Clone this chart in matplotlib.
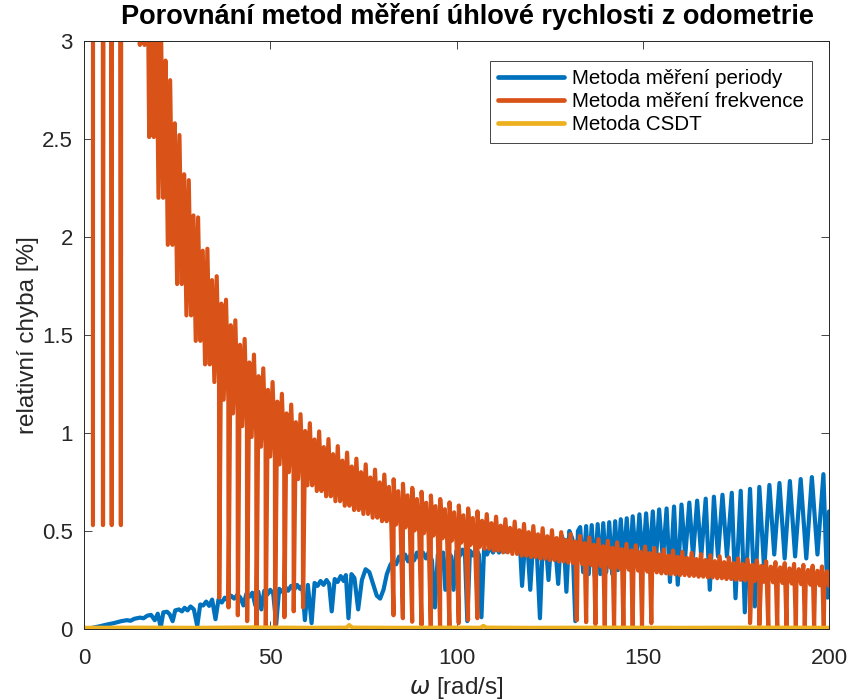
import numpy as np
import matplotlib
matplotlib.use('Agg')
import matplotlib.pyplot as plt

plt.rcParams['font.family'] = ['Liberation Sans', 'DejaVu Sans']

# --- metoda mereni frekvence: obalky pasma v krocich 2.5 rad/s ---
orange_omega = np.arange(2.5, 200.01, 2.5)
orange_peak = [25.2, 12.6, 8.4, 6.3, 5.04, 4.2, 3.6, 3.15, 2.8, 2.52,
               2.29, 2.1, 1.94, 1.8, 1.68, 1.575, 1.48, 1.4, 1.33, 1.26,
               1.2, 1.145, 1.096, 1.05, 1.008, 0.969, 0.933, 0.9, 0.869, 0.84,
               0.813, 0.788, 0.764, 0.741, 0.72, 0.7, 0.681, 0.663, 0.646, 0.63,
               0.615, 0.6, 0.586, 0.573, 0.56, 0.548, 0.536, 0.525, 0.514, 0.504,
               0.494, 0.485, 0.475, 0.467, 0.458, 0.45, 0.442, 0.434, 0.427, 0.42,
               0.413, 0.406, 0.4, 0.394, 0.388, 0.382, 0.376, 0.371, 0.365, 0.36,
               0.355, 0.35, 0.345, 0.341, 0.336, 0.332, 0.327, 0.323, 0.319, 0.315]
orange_mid = [23.2, 11.6, 7.73, 5.8, 4.64, 3.87, 3.31, 2.9, 2.58, 2.32,
              2.11, 1.93, 1.78, 1.66, 1.55, 1.45, 1.36, 1.29, 1.22, 1.16,
              1.10, 1.055, 1.01, 0.967, 0.928, 0.892, 0.859, 0.829, 0.8, 0.773,
              0.748, 0.725, 0.703, 0.682, 0.663, 0.644, 0.627, 0.611, 0.595, 0.58,
              0.566, 0.552, 0.54, 0.527, 0.516, 0.504, 0.494, 0.483, 0.473, 0.464,
              0.455, 0.446, 0.438, 0.43, 0.422, 0.414, 0.407, 0.4, 0.393, 0.387,
              0.38, 0.374, 0.368, 0.3625, 0.357, 0.352, 0.346, 0.341, 0.336, 0.331,
              0.327, 0.322, 0.318, 0.314, 0.309, 0.305, 0.301, 0.297, 0.294, 0.29]
orange_low = [17.6, 8.8, 5.87, 4.4, 3.52, 2.98, 2.51, 2.2, 1.96, 1.76,
              1.6, 1.47, 1.35, 1.26, 1.17, 1.1, 1.035, 0.98, 0.93, 0.88,
              0.84, 0.8, 0.765, 0.733, 0.704, 0.677, 0.652, 0.629, 0.607, 0.587,
              0.568, 0.55, 0.533, 0.518, 0.503, 0.489, 0.476, 0.463, 0.451, 0.44,
              0.429, 0.419, 0.409, 0.4, 0.391, 0.383, 0.374, 0.367, 0.359, 0.352,
              0.345, 0.338, 0.332, 0.326, 0.32, 0.314, 0.309, 0.303, 0.298, 0.293,
              0.289, 0.284, 0.279, 0.275, 0.271, 0.267, 0.263, 0.259, 0.255, 0.251,
              0.248, 0.244, 0.241, 0.238, 0.235, 0.232, 0.229, 0.226, 0.223, 0.22]
# propady k nule
drop_omega = [2.4, 5.1, 7.45, 9.9,
              36.3, 38.8, 41.3, 43.8, 46.3, 48.8, 51.3, 53.8, 56.3, 58.8,
              83.1, 85.6, 88.1, 90.6, 93.1, 95.6, 98.1, 100.6, 103.1, 105.6,
              132.3, 134.8, 137.3, 139.8, 142.3, 144.8, 147.3, 149.8, 152.3,
              178.8, 181.3, 183.7, 186.1, 188.6, 191.1, 193.5, 196.0, 198.6]
drop_err = [0.53, 0.53, 0.53, 0.53,
            0.16, 0.11, 0.07, 0.04, 0.01, 0.0, 0.02, 0.06, 0.09, 0.11,
            0.07, 0.055, 0.037, 0.02, 0.005, 0.0, 0.01, 0.03, 0.046, 0.055,
            0.045, 0.035, 0.025, 0.018, 0.012, 0.01, 0.015, 0.02, 0.03,
            0.03, 0.02, 0.012, 0.008, 0.005, 0.005, 0.008, 0.01, 0.012]

# --- metoda mereni periody ---
blue_omega = [0, 2, 4, 6, 8, 10, 11.5, 12.5, 13.5, 15,
              16, 17, 18, 19, 19.8, 20.6, 21.3, 22.3, 23.0, 23.8,
              24.5, 25.5, 26.3, 27.0, 27.8, 28.6, 29.5, 30.4, 31.2, 32.0,
              32.8, 33.6, 34.4, 35.3, 36.1, 37.0, 37.8, 38.6, 39.5, 40.3,
              41.2, 42.0, 42.8, 43.6, 44.4, 45.2, 46.0, 46.8, 47.6, 48.4,
              49.2, 50.0, 50.8, 51.6, 52.4, 53.2, 54.0, 54.8, 55.6, 56.4,
              57.2, 58.0, 58.6, 59.3, 60.1, 61.1, 61.9, 62.7, 63.5, 64.3,
              65.1, 65.8, 66.5, 67.3, 68.1, 68.9, 69.7, 70.3, 71.0, 71.8,
              72.6, 73.6, 74.6, 75.6, 76.6, 77.6, 78.6, 79.5, 80.4, 81.3,
              82.2, 83.0, 83.8, 84.6, 85.4, 86.2, 87.0, 87.8, 88.6, 89.4,
              90.2, 91.0, 91.8, 92.6, 93.4, 94.2, 95.0, 95.8, 96.4, 97.0,
              97.8, 98.6, 99.2, 100.0, 100.8, 101.6, 102.3, 102.9, 103.6, 104.4,
              105.2, 106.0, 106.7, 107.4, 108.2, 109.0, 109.8, 110.6, 111.4, 112.2,
              113.0, 113.8, 114.6, 115.4, 116.2, 117.0, 117.6, 118.4, 119.1, 119.8,
              120.6, 121.5, 122.4, 123.2, 124.0, 124.7, 125.5, 126.4, 127.3, 128.1,
              128.8, 129.5, 130.3, 131.1, 131.9, 132.6, 133.2, 134.0, 134.8, 135.5,
              136.3, 137.1, 137.9, 138.6, 139.4, 140.2, 141.0, 141.8, 142.6, 143.3,
              144.1, 144.9, 145.7, 146.5, 147.3, 148.2, 149.1, 150.0, 150.9, 151.8,
              152.7, 153.5, 154.4, 155.4, 156.4, 157.3, 158.4, 159.4, 160.4, 161.4,
              162.5, 163.5, 164.6, 165.7, 166.9, 168.0, 169.1, 170.2, 171.4, 172.6,
              173.9, 174.9, 176.3, 177.4, 178.8, 180.1, 181.3, 182.6, 184.0, 185.3,
              186.7, 188.1, 189.5, 190.9, 192.4, 193.9, 195.4, 196.9, 198.5, 199.6,
              200.0]
blue_err = [0.0, 0.005, 0.013, 0.022, 0.03, 0.04, 0.045, 0.042, 0.052, 0.058,
            0.055, 0.068, 0.072, 0.045, 0.078, 0.008, 0.085, 0.088, 0.075, 0.04,
            0.095, 0.1, 0.09, 0.108, 0.095, 0.115, 0.1, 0.015, 0.125, 0.12,
            0.14, 0.118, 0.15, 0.05, 0.15, 0.135, 0.16, 0.145, 0.17, 0.155,
            0.175, 0.16, 0.12, 0.18, 0.165, 0.185, 0.12, 0.19, 0.1, 0.195,
            0.175, 0.2, 0.18, 0.025, 0.205, 0.19, 0.215, 0.195, 0.22, 0.2,
            0.225, 0.205, 0.22, 0.045, 0.225, 0.03, 0.235, 0.22, 0.245, 0.225,
            0.25, 0.23, 0.09, 0.255, 0.24, 0.27, 0.245, 0.275, 0.055, 0.28,
            0.26, 0.1, 0.25, 0.305, 0.29, 0.23, 0.17, 0.155, 0.2, 0.28,
            0.325, 0.35, 0.33, 0.37, 0.34, 0.38, 0.345, 0.385, 0.35, 0.39,
            0.355, 0.39, 0.36, 0.395, 0.35, 0.11, 0.38, 0.36, 0.39, 0.2,
            0.39, 0.37, 0.2, 0.4, 0.37, 0.405, 0.37, 0.04, 0.4, 0.375,
            0.41, 0.38, 0.06, 0.41, 0.38, 0.42, 0.39, 0.42, 0.39, 0.425,
            0.395, 0.43, 0.4, 0.435, 0.405, 0.44, 0.22, 0.44, 0.41, 0.2,
            0.45, 0.42, 0.055, 0.46, 0.43, 0.25, 0.47, 0.44, 0.23, 0.48,
            0.45, 0.19, 0.5, 0.46, 0.04, 0.5, 0.52, 0.29, 0.525, 0.28,
            0.53, 0.27, 0.535, 0.28, 0.54, 0.29, 0.545, 0.28, 0.55, 0.3,
            0.56, 0.33, 0.565, 0.32, 0.575, 0.34, 0.585, 0.33, 0.59, 0.34,
            0.6, 0.34, 0.61, 0.35, 0.615, 0.24, 0.625, 0.226, 0.635, 0.37,
            0.645, 0.37, 0.655, 0.37, 0.665, 0.2, 0.675, 0.37, 0.685, 0.37,
            0.695, 0.157, 0.705, 0.085, 0.715, 0.115, 0.725, 0.3, 0.735, 0.38,
            0.745, 0.36, 0.755, 0.37, 0.765, 0.36, 0.775, 0.38, 0.79, 0.16,
            0.6]

# --- metoda CSDT ---
yellow_omega = [0, 15, 30, 45, 60, 70.5, 71.2, 72, 85, 100, 106.5, 107.2, 108,
                120, 140, 160, 180, 200]
yellow_err = [0.006, 0.007, 0.006, 0.008, 0.006, 0.007, 0.02, 0.007, 0.006, 0.007,
              0.006, 0.016, 0.007, 0.006, 0.007, 0.006, 0.007, 0.006]

labels = ['Metoda měření periody', 'Metoda měření frekvence', 'Metoda CSDT']

# sestaveni vrcholu oranzove krivky
ow, oe = [], []
for xj, lo, up, mid in zip(orange_omega, orange_low, orange_peak, orange_mid):
    ow += [xj, xj + 0.625, xj + 1.25, xj + 1.875]
    oe += [lo, up, lo, mid]
ow += drop_omega
oe += drop_err
order = np.argsort(ow, kind='stable')
ow = np.array(ow)[order]
oe = np.array(oe)[order]

fig = plt.figure(figsize=(8.51, 7.0), dpi=100)
ax = fig.add_axes([84 / 851, 1 - 629 / 700, 745 / 851, 588 / 700])

kw = dict(lw=3.0, solid_joinstyle='round', solid_capstyle='round')
ax.plot(blue_omega, blue_err, color='#0072BD', label=labels[0], **kw)
ax.plot(ow, oe, color='#D95319', label=labels[1], **kw)
ax.plot(yellow_omega, yellow_err, color='#EDB120', label=labels[2], **kw)

ax.set_xlim(0, 200)
ax.set_ylim(0, 3)
ax.set_xticks([0, 50, 100, 150, 200])
ax.set_yticks([0, 0.5, 1, 1.5, 2, 2.5, 3])
ax.set_yticklabels(['0', '0.5', '1', '1.5', '2', '2.5', '3'])
ax.tick_params(direction='in', top=True, right=True, length=6, width=0.6,
               labelsize=16, colors='#262626')
ax.tick_params(axis='x', pad=14)
ax.tick_params(axis='y', pad=8)
for s in ax.spines.values():
    s.set_linewidth(0.7)
    s.set_color('#262626')

ax.set_xlabel(r'$\omega$ [rad/s]', fontsize=17.5, color='#262626')
ax.xaxis.set_label_coords(0.5, (629 - 688) / 588)
ax.xaxis.label.set_va('center')
ax.set_ylabel('relativní chyba [%]', fontsize=17.5, color='#262626')
ax.yaxis.set_label_coords((28 - 84) / 745, 0.5)
ax.yaxis.label.set_va('center')

ax.text(0.515, (629 - 17) / 588, 'Porovnání metod měření úhlové rychlosti z odometrie',
        transform=ax.transAxes, ha='center', va='center', fontsize=19.5,
        fontweight='bold', color='black')

leg = ax.legend(loc='upper right', bbox_to_anchor=((812 - 84) / 745, (629 - 61) / 588),
                borderaxespad=0, fontsize=14.8, handlelength=3.2, handletextpad=0.4,
                labelspacing=0.2, fancybox=False, framealpha=1, borderpad=0.4)
leg.get_frame().set_edgecolor('#262626')
leg.get_frame().set_linewidth(0.6)
for h in leg.get_lines():
    h.set_linewidth(3.4)

fig.savefig('out.png', dpi=100)
